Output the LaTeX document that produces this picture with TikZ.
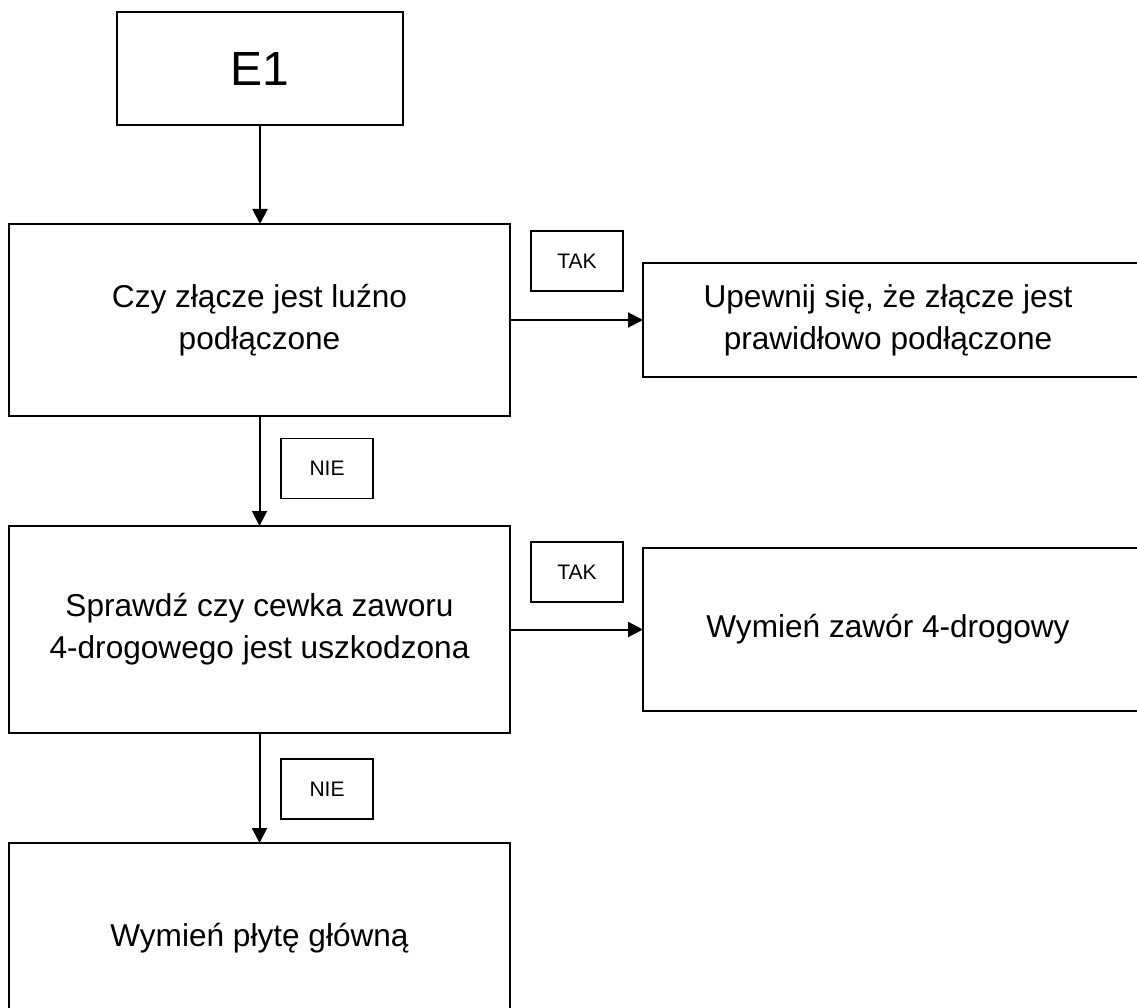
\documentclass[tikz,border=0pt]{standalone}
\usepackage{fontspec}
\setmainfont{Liberation Sans}
\usetikzlibrary{arrows.meta}
\begin{document}
\begin{tikzpicture}[x=1pt,y=-1pt,
  box/.style={draw=black,line width=2pt,rectangle,inner sep=0pt,outer sep=0pt,align=center,
    font=\fontsize{31.6}{42}\selectfont},
  lab/.style={draw=black,line width=1.5pt,rectangle,inner sep=0pt,outer sep=0pt,
    minimum width=92pt,minimum height=60pt,font=\fontsize{21}{25}\selectfont},
  conn/.style={line width=2pt,-{Triangle[length=15pt,width=15pt]}}]
\useasboundingbox (0,0) rectangle (1137,1008);
\fill[white] (0,0) rectangle (1137,1008);
\node[box,minimum width=286pt,minimum height=113pt,font=\fontsize{48}{56}\selectfont] (e1) at (260,68.5) {E1};
\node[box,minimum width=501pt,minimum height=192pt] (b1) at (259.5,320) {Czy złącze jest luźno\\podłączone};
\node[box,minimum width=502pt,minimum height=114pt,anchor=west] (r1) at (643,320)
  {\begin{tabular}{@{}c@{}}Upewnij się, że złącze jest\\prawidłowo podłączone\end{tabular}\hspace*{12pt}};
\node[box,minimum width=501pt,minimum height=207pt] (b2) at (259.5,629.5) {Sprawdź czy cewka zaworu\\4-drogowego jest uszkodzona};
\node[box,minimum width=502pt,minimum height=163pt,anchor=west] (r2) at (643,629.5)
  {Wymień zawór 4-drogowy\hspace*{12pt}};
\node[box,minimum width=501pt,minimum height=190pt] (b3) at (259.5,938) {Wymień płytę główną};
\node[lab] (t1) at (577,261) {TAK};
\node[lab] (t2) at (577,572) {TAK};
\node[lab] (n1) at (327,468.5) {NIE};
\node[lab] (n2) at (327,789) {NIE};
\draw[conn] (e1.south) -- (e1.south |- b1.north);
\draw[conn] (b1.east) -- (r1.west);
\draw[conn] (b1.south) -- (b2.north);
\draw[conn] (b2.east) -- (r2.west);
\draw[conn] (b2.south) -- (b3.north);
\end{tikzpicture}
\end{document}
